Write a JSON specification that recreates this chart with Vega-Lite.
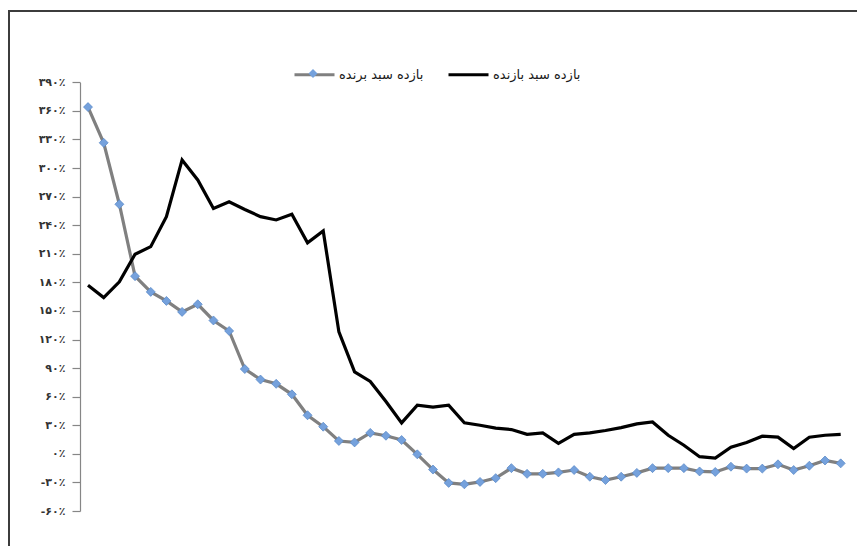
{
  "$schema": "https://vega.github.io/schema/vega-lite/v6.json",
  "width": 848,
  "height": 535,
  "autosize": "none",
  "padding": {"left": 9, "top": 11, "right": 0, "bottom": 0},
  "background": "white",
  "config": {
    "view": {"stroke": "#3c3c3c", "strokeWidth": 2, "strokeDash": [848, 1383, 535]},
    "font": "DejaVu Sans"
  },
  "datasets": {
    "rows": [
      {"i":0,"s":"بازده سبد برنده","v":364},{"i":1,"s":"بازده سبد برنده","v":326.5},{"i":2,"s":"بازده سبد برنده","v":262},{"i":3,"s":"بازده سبد برنده","v":186.5},{"i":4,"s":"بازده سبد برنده","v":170},{"i":5,"s":"بازده سبد برنده","v":160.5},{"i":6,"s":"بازده سبد برنده","v":149},{"i":7,"s":"بازده سبد برنده","v":157},{"i":8,"s":"بازده سبد برنده","v":140},{"i":9,"s":"بازده سبد برنده","v":129},{"i":10,"s":"بازده سبد برنده","v":89},{"i":11,"s":"بازده سبد برنده","v":78},{"i":12,"s":"بازده سبد برنده","v":73.5},{"i":13,"s":"بازده سبد برنده","v":62.5},{"i":14,"s":"بازده سبد برنده","v":40.5},{"i":15,"s":"بازده سبد برنده","v":28.5},{"i":16,"s":"بازده سبد برنده","v":13.5},{"i":17,"s":"بازده سبد برنده","v":12},{"i":18,"s":"بازده سبد برنده","v":22},{"i":19,"s":"بازده سبد برنده","v":19},{"i":20,"s":"بازده سبد برنده","v":14.5},{"i":21,"s":"بازده سبد برنده","v":-0.5},{"i":22,"s":"بازده سبد برنده","v":-16.5},{"i":23,"s":"بازده سبد برنده","v":-30.5},{"i":24,"s":"بازده سبد برنده","v":-32},{"i":25,"s":"بازده سبد برنده","v":-29.5},{"i":26,"s":"بازده سبد برنده","v":-25.5},{"i":27,"s":"بازده سبد برنده","v":-15},{"i":28,"s":"بازده سبد برنده","v":-21},{"i":29,"s":"بازده سبد برنده","v":-21},{"i":30,"s":"بازده سبد برنده","v":-19.5},{"i":31,"s":"بازده سبد برنده","v":-17},{"i":32,"s":"بازده سبد برنده","v":-24},{"i":33,"s":"بازده سبد برنده","v":-27.5},{"i":34,"s":"بازده سبد برنده","v":-24},{"i":35,"s":"بازده سبد برنده","v":-20},{"i":36,"s":"بازده سبد برنده","v":-15},{"i":37,"s":"بازده سبد برنده","v":-15},{"i":38,"s":"بازده سبد برنده","v":-15},{"i":39,"s":"بازده سبد برنده","v":-18.5},{"i":40,"s":"بازده سبد برنده","v":-19},{"i":41,"s":"بازده سبد برنده","v":-13.5},{"i":42,"s":"بازده سبد برنده","v":-15.5},{"i":43,"s":"بازده سبد برنده","v":-15.5},{"i":44,"s":"بازده سبد برنده","v":-11},{"i":45,"s":"بازده سبد برنده","v":-17},{"i":46,"s":"بازده سبد برنده","v":-12.5},{"i":47,"s":"بازده سبد برنده","v":-7},{"i":48,"s":"بازده سبد برنده","v":-10},
      {"i":0,"s":"بازده سبد بازنده","v":177},{"i":1,"s":"بازده سبد بازنده","v":164},{"i":2,"s":"بازده سبد بازنده","v":180.5},{"i":3,"s":"بازده سبد بازنده","v":209.5},{"i":4,"s":"بازده سبد بازنده","v":217.5},{"i":5,"s":"بازده سبد بازنده","v":249},{"i":6,"s":"بازده سبد بازنده","v":308.5},{"i":7,"s":"بازده سبد بازنده","v":287.5},{"i":8,"s":"بازده سبد بازنده","v":257.5},{"i":9,"s":"بازده سبد بازنده","v":264.5},{"i":10,"s":"بازده سبد بازنده","v":256.5},{"i":11,"s":"بازده سبد بازنده","v":249},{"i":12,"s":"بازده سبد بازنده","v":245.5},{"i":13,"s":"بازده سبد بازنده","v":251.5},{"i":14,"s":"بازده سبد بازنده","v":221.5},{"i":15,"s":"بازده سبد بازنده","v":234},{"i":16,"s":"بازده سبد بازنده","v":128},{"i":17,"s":"بازده سبد بازنده","v":86},{"i":18,"s":"بازده سبد بازنده","v":76},{"i":19,"s":"بازده سبد بازنده","v":55},{"i":20,"s":"بازده سبد بازنده","v":32.5},{"i":21,"s":"بازده سبد بازنده","v":51},{"i":22,"s":"بازده سبد بازنده","v":49},{"i":23,"s":"بازده سبد بازنده","v":51},{"i":24,"s":"بازده سبد بازنده","v":32.5},{"i":25,"s":"بازده سبد بازنده","v":30},{"i":26,"s":"بازده سبد بازنده","v":27},{"i":27,"s":"بازده سبد بازنده","v":25.5},{"i":28,"s":"بازده سبد بازنده","v":20.5},{"i":29,"s":"بازده سبد بازنده","v":22},{"i":30,"s":"بازده سبد بازنده","v":11},{"i":31,"s":"بازده سبد بازنده","v":20.5},{"i":32,"s":"بازده سبد بازنده","v":22},{"i":33,"s":"بازده سبد بازنده","v":24.5},{"i":34,"s":"بازده سبد بازنده","v":27.5},{"i":35,"s":"بازده سبد بازنده","v":31.5},{"i":36,"s":"بازده سبد بازنده","v":33.5},{"i":37,"s":"بازده سبد بازنده","v":19.5},{"i":38,"s":"بازده سبد بازنده","v":9},{"i":39,"s":"بازده سبد بازنده","v":-3},{"i":40,"s":"بازده سبد بازنده","v":-4.5},{"i":41,"s":"بازده سبد بازنده","v":7},{"i":42,"s":"بازده سبد بازنده","v":12},{"i":43,"s":"بازده سبد بازنده","v":18.5},{"i":44,"s":"بازده سبد بازنده","v":17.5},{"i":45,"s":"بازده سبد بازنده","v":5.5},{"i":46,"s":"بازده سبد بازنده","v":17.5},{"i":47,"s":"بازده سبد بازنده","v":19.5},{"i":48,"s":"بازده سبد بازنده","v":20.5}
    ]
  },
  "data": {"name": "rows"},
  "encoding": {
    "x": {"field": "i", "type": "quantitative", "axis": null,
          "scale": {"domain": [0, 48], "range": [79, 831.7], "nice": false, "zero": false}},
    "y": {"field": "v", "type": "quantitative",
          "scale": {"domain": [-60, 390], "range": [500, 71.3], "nice": false, "zero": false},
          "axis": {
            "title": null, "grid": false, "offset": -71,
            "values": [-60, -30, 0, 30, 60, 90, 120, 150, 180, 210, 240, 270, 300, 330, 360, 390],
            "domainColor": "#868686", "domainWidth": 1.2,
            "tickColor": "#868686", "tickSize": 8, "tickWidth": 1.2,
            "labelPadding": 7, "labelFont": "DejaVu Sans", "labelFontSize": 11, "labelFontWeight": "bold", "labelColor": "#333333",
            "labelExpr": "replace(replace(replace(replace(replace(replace(replace(replace(replace(replace(toString(datum.value),/0/g,'۰'),/1/g,'۱'),/2/g,'۲'),/3/g,'۳'),/4/g,'۴'),/5/g,'۵'),/6/g,'۶'),/7/g,'۷'),/8/g,'۸'),/9/g,'۹') + '٪'"
          }}
  },
  "layer": [
    {
      "mark": {"type": "line", "strokeWidth": 3.2},
      "encoding": {
        "stroke": {"field": "s", "type": "nominal",
          "scale": {"domain": ["بازده سبد برنده", "بازده سبد بازنده"], "range": ["#808080", "#000000"]},
          "legend": {"title": null, "orient": "none", "direction": "horizontal", "legendX": 284, "legendY": 42,
                     "padding": 0, "columnPadding": 18, "labelOffset": 3, "symbolType": "stroke", "symbolSize": 1600,
                     "symbolStrokeWidth": 3, "labelFont": "DejaVu Sans", "labelFontSize": 13, "labelColor": "#1a1a1a", "zindex": 1}}
      }
    },
    {
      "transform": [{"filter": "datum.s === 'بازده سبد برنده'"}],
      "mark": {"type": "point", "filled": true, "size": 81, "fill": "#75a1dc", "stroke": "#5585c5", "strokeWidth": 0.7, "opacity": 1},
      "encoding": {
        "shape": {"field": "s", "type": "nominal",
          "scale": {"domain": ["بازده سبد برنده"], "range": ["diamond"]},
          "legend": {"title": null, "orient": "none", "legendX": 299, "legendY": 57.5, "padding": 0,
                     "symbolSize": 81, "symbolFillColor": "#75a1dc", "symbolStrokeColor": "#5585c5", "symbolStrokeWidth": 0.7,
                     "labelExpr": "''", "labelFontSize": 1, "zindex": 2}}
      }
    }
  ]
}
